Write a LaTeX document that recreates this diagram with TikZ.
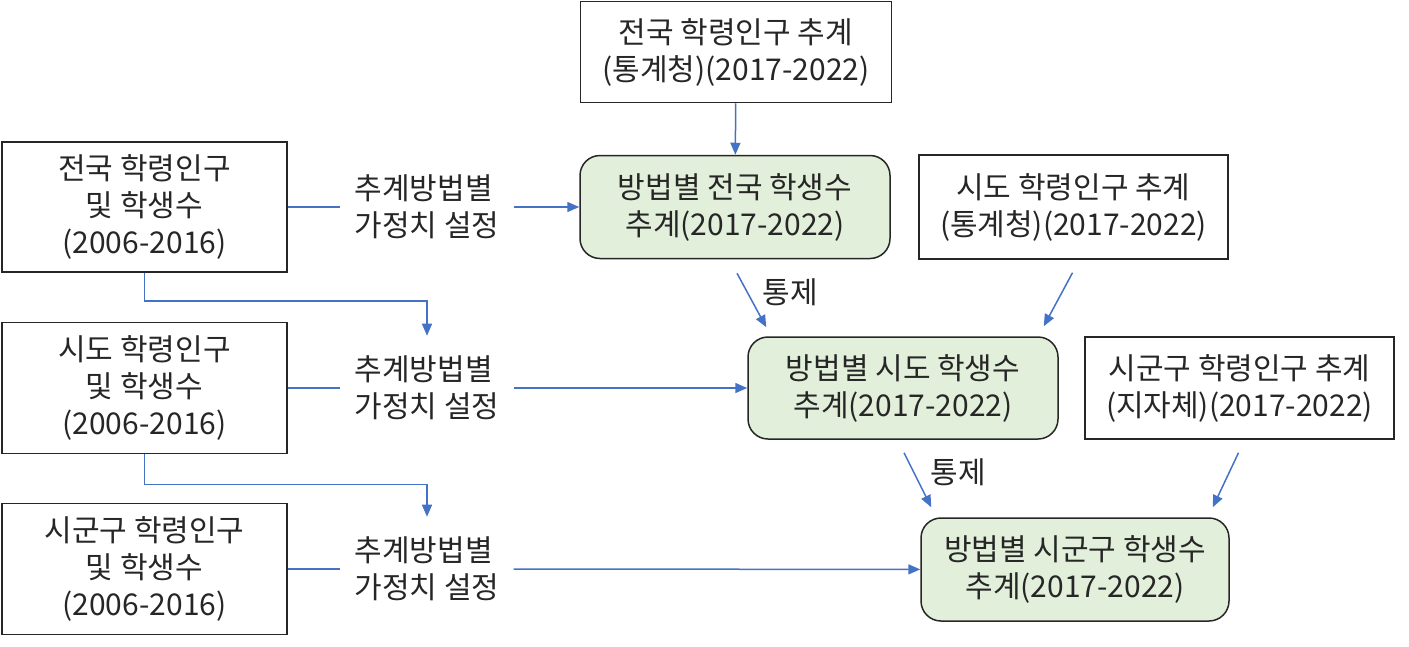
\documentclass[tikz,border=0pt]{standalone}
\usepackage{fontspec}
\setmainfont{Noto Sans CJK KR}
\usetikzlibrary{arrows.meta,calc}
\definecolor{arrowblue}{RGB}{68,114,196}
\definecolor{boxgreen}{RGB}{226,239,218}
\begin{document}
\begin{tikzpicture}[x=1pt,y=-1pt,
  every node/.style={font=\fontsize{30}{37}\selectfont, text=black!85},
  src/.style={draw=black!85, line width=1.5pt, align=center, inner sep=0pt},
  est/.style={src, fill=boxgreen, rounded corners=20pt},
  wlabel/.style={align=left, inner xsep=14pt, inner ysep=20pt},
  flow/.style={draw=arrowblue, line width=1.5pt},
  arr/.style={flow, -{Triangle[length=12pt,width=10pt]}}]
\useasboundingbox (0,0) rectangle (1409,646);
% projections given from outside
\node[src, minimum width=311pt, minimum height=101pt] (natlProj) at (736,52) {전국 학령인구 추계\\(통계청)(2017-2022)};
\node[src, minimum width=309pt, minimum height=104pt] (provProj) at (1073.5,207) {시도 학령인구 추계\\(통계청)(2017-2022)};
\node[src, minimum width=309pt, minimum height=102pt] (distProj) at (1239.5,388) {시군구 학령인구 추계\\(지자체)(2017-2022)};
% past data
\node[src, minimum width=285pt, minimum height=130pt] (natlPast) at (144.5,207) {전국 학령인구\\및 학생수\\(2006-2016)};
\node[src, minimum width=285pt, minimum height=131pt] (provPast) at (144.5,388) {시도 학령인구\\및 학생수\\(2006-2016)};
\node[src, minimum width=285pt, minimum height=131pt] (distPast) at (144.5,569) {시군구 학령인구\\및 학생수\\(2006-2016)};
% weights
\node[wlabel] (natlWt) at (427,207) {추계방법별\\가정치 설정};
\node[wlabel] (provWt) at (427,388) {추계방법별\\가정치 설정};
\node[wlabel] (distWt) at (427,569) {추계방법별\\가정치 설정};
% estimates
\node[est, minimum width=310pt, minimum height=103pt] (natlEst) at (735,207) {방법별 전국 학생수\\추계(2017-2022)};
\node[est, minimum width=310pt, minimum height=102pt] (provEst) at (903,388) {방법별 시도 학생수\\추계(2017-2022)};
\node[est, minimum width=308pt, minimum height=103pt] (distEst) at (1075,569.5) {방법별 시군구 학생수\\추계(2017-2022)};
\node (ctlA) at (790,292) {통제};
\node (ctlB) at (958,472) {통제};

\draw[arr] (natlProj) -- (natlEst);
\draw[flow] (natlPast) -- (natlWt);
\draw[arr] (natlWt) -- (natlEst);
\draw[flow] (provPast) -- (provWt);
\draw[arr] (provWt) -- (provEst);
\draw[flow] (distPast) -- (distWt);
\draw[arr] (distWt) -- (distEst);
\draw[arr] (natlPast.south) -- ++(0,28) -| (provWt.north);
\draw[arr] (provPast.south) -- ++(0,30) -| (distWt.north);
\draw[arr] ($(natlEst.south)+(2,14)$) -- ($(provEst.north west)+(19,-9)$);
\draw[arr] ($(provProj.south)+(-1,13)$) -- ($(provEst.north east)+(-15,-10)$);
\draw[arr] ($(provEst.south)+(1,13)$) -- ($(distEst.north west)+(11,-10)$);
\draw[arr] ($(distProj.south)+(-1,13)$) -- ($(distEst.north east)+(-17,-10)$);
\end{tikzpicture}
\end{document}
